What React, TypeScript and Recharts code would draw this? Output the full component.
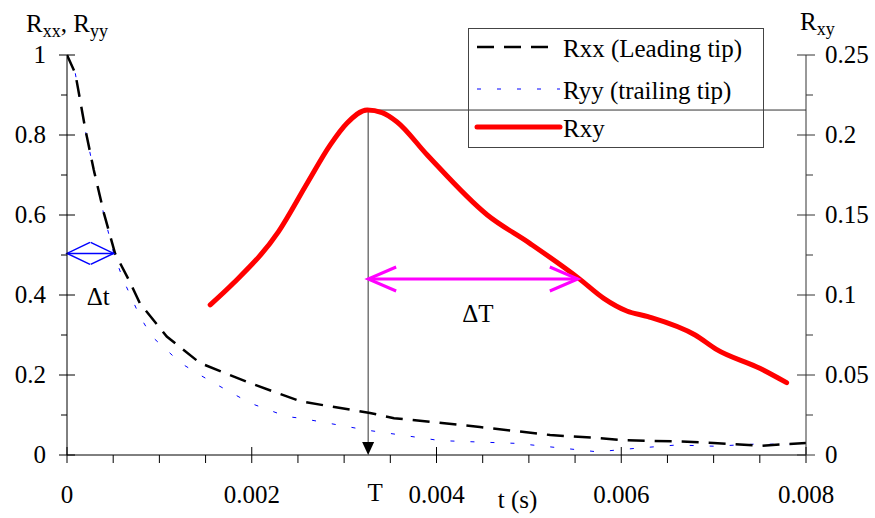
import React from "react";
import {
  ComposedChart,
  Line,
  XAxis,
  YAxis,
  ReferenceLine,
  Legend,
} from "recharts";

// Rxx (leading tip), left axis
const rxxTime = [
  0, 0.00009, 0.0002, 0.00029, 0.0004, 0.00052, 0.00067, 0.00079, 0.00108,
  0.00144, 0.00198, 0.00253, 0.00328, 0.00354, 0.00447, 0.00523, 0.00577,
  0.00602, 0.0066, 0.007, 0.0075, 0.008,
];
const rxxValues = [
  1, 0.954, 0.8125, 0.7125, 0.604, 0.504, 0.4375, 0.379, 0.296, 0.23, 0.18,
  0.134, 0.105, 0.092, 0.07, 0.05, 0.042, 0.037, 0.034, 0.03, 0.023, 0.03,
];

// Ryy (trailing tip), left axis
const ryyTime = [
  0, 0.00009, 0.0002, 0.00029, 0.0004, 0.00051, 0.00061, 0.00079, 0.00092,
  0.00109, 0.00123, 0.00144, 0.00159, 0.00198, 0.00238, 0.00253, 0.00325,
  0.00404, 0.00487, 0.00574, 0.00617, 0.0066, 0.007, 0.00743, 0.00786,
];
const ryyValues = [
  1, 0.954, 0.81, 0.71, 0.6, 0.5, 0.4375, 0.346, 0.296, 0.26, 0.23, 0.2, 0.18,
  0.13, 0.096, 0.092, 0.062, 0.036, 0.029, 0.008, 0.017, 0.025, 0.022, 0.027,
  0.027,
];

// Rxy, right axis
const rxyTime = [
  0.00155, 0.0018, 0.00229, 0.0026, 0.00285, 0.00303, 0.00325, 0.00341,
  0.00357, 0.0039, 0.00455, 0.00501, 0.00554, 0.00581, 0.00606, 0.00629,
  0.0068, 0.00703, 0.0075, 0.00779,
];
const rxyValues = [
  0.0938, 0.1073, 0.1396, 0.1698, 0.1938, 0.2073, 0.2156, 0.214, 0.2083,
  0.1875, 0.15, 0.1323, 0.1104, 0.0979, 0.09, 0.0865, 0.075, 0.066, 0.0542,
  0.0452,
];

const xTicks = [
  0, 0.0005, 0.001, 0.0015, 0.002, 0.0025, 0.003, 0.0035, 0.004, 0.0045,
  0.005, 0.0055, 0.006, 0.0065, 0.007, 0.0075, 0.008,
];
const xLabels = ["0", "0.002", "0.004", "0.006", "0.008"];
const leftTicks = [0, 0.1, 0.2, 0.3, 0.4, 0.5, 0.6, 0.7, 0.8, 0.9, 1];
const leftLabels = ["0", "0.2", "0.4", "0.6", "0.8", "1"];
const rightTicks = [
  0, 0.025, 0.05, 0.075, 0.1, 0.125, 0.15, 0.175, 0.2, 0.225, 0.25,
];
const rightLabels = ["0", "0.05", "0.1", "0.15", "0.2", "0.25"];

// annotations
const peakTime = 0.00326;
const peakValue = 0.2156;
const spreadEnd = 0.00553;
const spreadLevel = 0.11;
const deltaEnd = 0.000505;
const deltaLevel = 0.504;

const rxxData = rxxTime.map((t, i) => ({ t, v: rxxValues[i] }));
const ryyData = ryyTime.map((t, i) => ({ t, v: ryyValues[i] }));
const rxyData = rxyTime.map((t, i) => ({ t, v: rxyValues[i] }));

const font = '"Liberation Serif", "Times New Roman", serif';
const fs = 25;

const findLabel = (labels: string[], v: number) =>
  labels.find((l) => Math.abs(Number(l) - v) < 1e-9);

const XTick = (props: any) => {
  const { x, y, payload } = props;
  const label = findLabel(xLabels, payload.value);
  return (
    <g>
      <line x1={x} x2={x} y1={label ? y - 8 : y} y2={y + 8} stroke="#000" />
      {label && (
        <text x={x} y={y + 48} textAnchor="middle" fontSize={fs} fontFamily={font} fill="#000">
          {label}
        </text>
      )}
    </g>
  );
};

const LeftTick = (props: any) => {
  const { x, y, payload } = props;
  const label = findLabel(leftLabels, payload.value);
  return (
    <g>
      <line x1={label ? x - 8 : x - 6} x2={label ? x + 8 : x} y1={y} y2={y} stroke="#000" />
      {label && (
        <text x={x - 21} y={y + 8} textAnchor="end" fontSize={fs} fontFamily={font} fill="#000">
          {label}
        </text>
      )}
    </g>
  );
};

const RightTick = (props: any) => {
  const { x, y, payload } = props;
  const label = findLabel(rightLabels, payload.value);
  return (
    <g>
      <line x1={label ? x - 9 : x} x2={label ? x + 9 : x + 7} y1={y} y2={y} stroke="#333" />
      {label && (
        <text x={x + 19} y={y + 8} textAnchor="start" fontSize={fs} fontFamily={font} fill="#000">
          {label}
        </text>
      )}
    </g>
  );
};

const openHead = (tx: number, ty: number, dir: number, len: number, half: number) =>
  `M${tx + dir * len},${ty - half} L${tx},${ty} L${tx + dir * len},${ty + half}`;

const PeakDrop = (props: any) => {
  const { x1, y1, x2, y2 } = props;
  return (
    <g>
      <line x1={x1} y1={y1} x2={x2} y2={y2 - 10} stroke="#333" strokeWidth={1} />
      <polygon points={`${x2 - 6},${y2 - 13} ${x2 + 6},${y2 - 13} ${x2},${y2}`} fill="#000" />
      <text x={x2 + 7} y={y2 + 46} textAnchor="middle" fontSize={fs} fontFamily={font} fill="#000">
        T
      </text>
    </g>
  );
};

const PeakLevel = (props: any) => {
  const { x1, y1, x2, y2 } = props;
  return <line x1={x1} y1={y1} x2={x2} y2={y2} stroke="#333" strokeWidth={1} />;
};

const SpreadArrow = (props: any) => {
  const { x1, y1, x2, y2 } = props;
  return (
    <g fill="none" stroke="#ff00ff" strokeWidth={3}>
      <line x1={x1} y1={y1} x2={x2} y2={y2} />
      <path d={openHead(x1, y1, 1, 28, 12)} />
      <path d={openHead(x2, y2, -1, 28, 12)} />
      <text
        x={(x1 + x2) / 2 + 5}
        y={y1 + 43}
        textAnchor="middle"
        fontSize={fs}
        fontFamily={font}
        fill="#000"
        stroke="none"
      >
        ΔT
      </text>
    </g>
  );
};

const DeltaArrow = (props: any) => {
  const { x1, y1, x2, y2 } = props;
  return (
    <g fill="none" stroke="#0000ff" strokeWidth={1.5}>
      <line x1={x1} y1={y1} x2={x2} y2={y2} />
      <path d={openHead(x1, y1, 1, 23, 11)} />
      <path d={openHead(x2, y2, -1, 23, 11)} />
      <text
        x={(x1 + x2) / 2 + 8}
        y={y1 + 52}
        textAnchor="middle"
        fontSize={fs}
        fontFamily={font}
        fill="#000"
        stroke="none"
      >
        Δt
      </text>
    </g>
  );
};

const rxxStyle = { stroke: "#000", width: 2.5, dash: "17 10" };
const ryyStyle = { stroke: "#0000ff", width: 1, dash: "4 16" };
const rxyStyle = { stroke: "#ff0000", width: 5, dash: undefined };

const legendRows = [
  { name: "Rxx (Leading tip)", style: rxxStyle, y: 19, end: 82 },
  { name: "Ryy (trailing tip)", style: ryyStyle, y: 61, end: 92 },
  { name: "Rxy", style: rxyStyle, y: 99, end: 92 },
];

const LegendBox = () => (
  <svg width={296} height={120} style={{ display: "block" }}>
    <rect x={0.5} y={0.5} width={295} height={119} fill="none" stroke="#444" />
    {legendRows.map((r) => (
      <g key={r.name}>
        <line
          x1={9}
          x2={r.end}
          y1={r.y}
          y2={r.y}
          stroke={r.style.stroke}
          strokeWidth={r.style.width}
          strokeDasharray={r.style.dash}
          strokeLinecap={r.style.dash ? "butt" : "round"}
        />
        <text x={95} y={r.y + 10} fontSize={fs} fontFamily={font} fill="#000">
          {r.name}
        </text>
      </g>
    ))}
  </svg>
);

const LeftTitle = (props: any) => {
  const { viewBox } = props;
  return (
    <text x={viewBox.x + 26} y={viewBox.y - 23} fontSize={fs} fontFamily={font} fill="#000">
      R<tspan fontSize={18} dy={5}>xx</tspan>
      <tspan dy={-5}>, R</tspan>
      <tspan fontSize={18} dy={5}>yy</tspan>
    </text>
  );
};

const RightTitle = (props: any) => {
  const { viewBox } = props;
  return (
    <text x={viewBox.x - 6} y={viewBox.y - 25} fontSize={fs} fontFamily={font} fill="#000">
      R<tspan fontSize={18} dy={5}>xy</tspan>
    </text>
  );
};

const TimeTitle = (props: any) => {
  const { viewBox } = props;
  return (
    <text
      x={viewBox.x + viewBox.width / 2 + 81}
      y={viewBox.y + 53}
      textAnchor="middle"
      fontSize={fs}
      fontFamily={font}
      fill="#000"
    >
      t (s)
    </text>
  );
};

export default function App() {
  return (
    <div style={{ position: "absolute", left: 0, top: 0, width: 875, height: 518, background: "#fff" }}>
      <ComposedChart width={875} height={518} margin={{ top: 55, right: 0, left: 0, bottom: 0 }}>
        <XAxis
          dataKey="t"
          type="number"
          domain={[0, 0.008]}
          allowDataOverflow
          ticks={xTicks}
          interval={0}
          tick={<XTick />}
          tickLine={false}
          tickSize={0}
          tickMargin={0}
          height={63}
          axisLine={{ stroke: "#000" }}
          label={{ content: <TimeTitle /> }}
        />
        <YAxis
          yAxisId="left"
          orientation="left"
          domain={[0, 1]}
          ticks={leftTicks}
          interval={0}
          tick={<LeftTick />}
          tickLine={false}
          tickSize={0}
          tickMargin={0}
          width={67}
          axisLine={{ stroke: "#000" }}
          label={{ content: <LeftTitle /> }}
        />
        <YAxis
          yAxisId="right"
          orientation="right"
          domain={[0, 0.25]}
          ticks={rightTicks}
          interval={0}
          tick={<RightTick />}
          tickLine={false}
          tickSize={0}
          tickMargin={0}
          width={69}
          axisLine={{ stroke: "#333" }}
          label={{ content: <RightTitle /> }}
        />
        <ReferenceLine
          yAxisId="right"
          segment={[
            { x: peakTime, y: peakValue },
            { x: 0.008, y: peakValue },
          ]}
          shape={<PeakLevel />}
        />
        <ReferenceLine
          yAxisId="right"
          segment={[
            { x: peakTime, y: peakValue },
            { x: peakTime, y: 0 },
          ]}
          shape={<PeakDrop />}
        />
        <Line
          data={ryyData}
          dataKey="v"
          yAxisId="left"
          type="linear"
          stroke={ryyStyle.stroke}
          strokeWidth={ryyStyle.width}
          strokeDasharray={ryyStyle.dash}
          dot={false}
          isAnimationActive={false}
        />
        <Line
          data={rxxData}
          dataKey="v"
          yAxisId="left"
          type="linear"
          stroke={rxxStyle.stroke}
          strokeWidth={rxxStyle.width}
          strokeDasharray={rxxStyle.dash}
          dot={false}
          isAnimationActive={false}
        />
        <Line
          data={rxyData}
          dataKey="v"
          yAxisId="right"
          type="monotone"
          stroke={rxyStyle.stroke}
          strokeWidth={rxyStyle.width}
          strokeLinecap="round"
          strokeLinejoin="round"
          dot={false}
          isAnimationActive={false}
        />
        <ReferenceLine
          yAxisId="right"
          segment={[
            { x: peakTime, y: spreadLevel },
            { x: spreadEnd, y: spreadLevel },
          ]}
          shape={<SpreadArrow />}
        />
        <ReferenceLine
          yAxisId="left"
          segment={[
            { x: 0, y: deltaLevel },
            { x: deltaEnd, y: deltaLevel },
          ]}
          shape={<DeltaArrow />}
        />
        <Legend
          layout="vertical"
          align="center"
          verticalAlign="middle"
          content={<LegendBox />}
          wrapperStyle={{ left: 468, top: 28, width: 296, height: 120 }}
        />
      </ComposedChart>
    </div>
  );
}
